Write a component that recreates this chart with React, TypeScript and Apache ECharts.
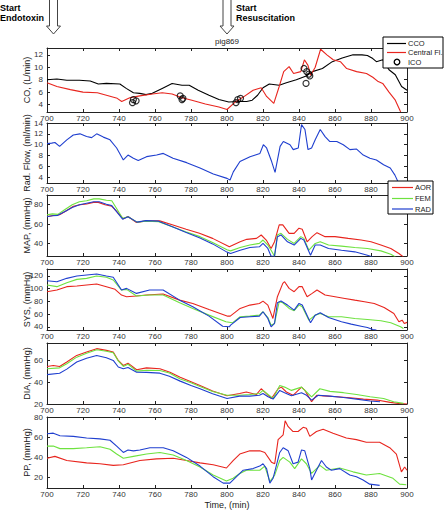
import React, { useEffect, useRef } from "react";
import * as echarts from "echarts";

const FONT = "'Liberation Sans', Arial, Helvetica, sans-serif";
const RED = "#e8251e";
const GREEN = "#6ee23f";
const BLUE = "#1f3fcf";

// CO panel
const cco: number[][] = [[700,8.0],[705.5,8.1],[711,7.9],[718,7.9],[724,7.8],[728.5,7.3],[733,7.4],[740.5,7.3],[744,6.6],[748,5.9],[751.5,5.8],[755,5.6],[758.5,5.8],[764,6.6],[769.5,7.4],[775,7.1],[779,7.1],[784,6.3],[790,5.5],[795.5,4.8],[801,4.4],[806,4.5],[811,4.5],[814,4.7],[817,5.5],[820,6.7],[823.5,7.3],[829,7.1],[833,7.5],[838.5,8.0],[844,8.6],[847.5,9.3],[853,9.8],[858.5,10.9],[864,11.5],[870,12],[875,12],[878,11.9],[881,11.4],[883,10.9],[886.5,11.2],[890,9.6],[893.5,8.8],[897,6.9],[900,6.3]];
const centralFl: number[][] = [[700,7.5],[705.5,6.9],[713,6.4],[720,6.0],[728,5.9],[733,5.5],[739,5.0],[741.5,4.5],[746,5.1],[751.5,5.4],[758.5,5.7],[764,5.9],[769.5,5.7],[775,5.1],[780.5,4.7],[788,4.1],[795.5,3.6],[800,3.2],[804.5,4.4],[809,5.2],[814.5,6.3],[819,6.7],[822,5.3],[826,4.2],[829,6.9],[831.5,9.3],[834.5,10.1],[837,9.0],[841,9.3],[843,11.2],[845,10.3],[846.5,8.7],[849,10.0],[852,12.9],[855.5,12.0],[859,11.2],[863,10.9],[866.5,9.8],[872,9.3],[877.5,9.0],[881,8.4],[884,7.7],[886.5,7.4],[890,6.0],[893.5,4.7],[896.5,2.8]];
const ico: number[][] = [[747.5,4.3],[748,4.8],[749.5,4.6],[774,5.4],[775,4.8],[775.5,5.0],[805,4.3],[806,4.8],[807.5,5.0],[842.8,9.8],[844.3,9.3],[845.5,8.9],[846,8.6],[843.9,7.4]];

// Radial flow
const radFlow: number[][] = [[700,10.2],[702.6,10.3],[704.4,10.4],[707,9.7],[711,10.9],[714.6,11.8],[718.3,12.0],[722,11.5],[724.8,11.3],[727.6,12.0],[731.3,11.4],[735,10.9],[738.7,9.4],[742.4,7.2],[745,8.1],[748,7.5],[750.7,7.1],[755.3,7.8],[760.9,8.1],[764.6,8.4],[770,7.5],[777.6,6.7],[785,5.7],[792.4,4.6],[800,3.8],[801.7,3.5],[803.5,5.0],[807.2,6.9],[812.8,7.8],[818.3,8.4],[820.2,10.0],[822,9.4],[824.8,6.9],[826.7,4.9],[829.5,9.7],[831.3,10.6],[835,10.0],[836.8,9.1],[839.6,9.4],[841.4,13.7],[843.3,12.8],[845,9.1],[847,9.4],[849,10.9],[851.8,12.8],[854.5,11.5],[857,10.6],[861,10.6],[864.6,10.0],[868.3,9.1],[872,9.2],[875.7,8.1],[879.4,7.5],[883,7.2],[887,6.3],[890.7,5.7],[893.3,4.4],[895,3.2]];

// MAP
const mapAor: number[][] = [[700,67.8],[703.7,68.9],[707,69.6],[711,74],[714.7,78.3],[718.4,80],[722,80.7],[725.8,82.4],[728.5,82.4],[732.2,80],[736,78.3],[738.7,73],[742.4,65.4],[745,67.8],[749.7,61.6],[755,63.3],[762.6,63.3],[770,59],[777.3,54.6],[784.7,50.4],[792,45.2],[801.3,36.5],[807.3,41.7],[811,44.2],[816.4,45.2],[819,48.7],[821.8,43.5],[824.5,34.8],[826.4,41.7],[829,59.1],[831,59.1],[834.5,50.4],[837.3,50.4],[840,55.7],[841.8,54.6],[844.5,41.7],[847.3,47],[850,51.1],[854.5,47],[860,47],[867.3,45.2],[874.5,43.5],[880,41.7],[885.5,38.3],[891,34.8],[895.5,29.6],[898,26]];
const mapFem: number[][] = [[700,69.5],[703,70.5],[706,70],[710,75],[714,80],[718,83],[722,84],[726,86],[729,86],[733,84.5],[736,84],[739,75],[742,66],[745,67.5],[750,62],[755,63],[762,62.5],[770,57],[777,52],[785,47],[792,41],[800,33.5],[802,32.3],[807.3,35.8],[812.7,38.3],[818,40],[820,43.5],[822.7,38.3],[824.5,33],[826.4,26.8],[828,48.7],[830,50.4],[833.6,44.2],[837.3,40],[841,47],[842.7,45.2],[845.5,33],[849,40],[851.8,41.7],[856.4,38.3],[863.6,37.2],[871,35.8],[878,34.8],[885.5,32.3],[891,28.9],[893.6,26]];
const mapRad: number[][] = [[700,67.5],[703,68.5],[706,69],[710,73],[714,77],[718,80],[722,81.5],[726,83],[729,83],[733,80.5],[736,79],[739,72],[742,65],[745,67.5],[750,62],[755,63.5],[762,63],[770,57],[777,51.5],[785,45.5],[792,39.5],[800,31],[802,29.6],[807.3,33],[812.7,35.8],[818,36.5],[820,40],[822.7,34.8],[824.5,26.8],[826.4,26.8],[828,47],[830,48.7],[833.6,41.7],[837.3,38.3],[841,45.2],[842.7,43.5],[846.4,27.8],[849,38.3],[851.8,38.3],[856.4,34.8],[863.6,33],[871,31.3],[878,27.8],[881,26],[883,25]];

// SYS
const sysAor: number[][] = [[700,95.3],[705.5,97.9],[711,103.2],[716.6,104.2],[722,105.8],[727.6,107.4],[733,103.2],[737.8,99],[741.4,90],[744.2,87.4],[749.7,88.4],[755.2,90],[764.5,91.6],[773.7,82],[781,76.8],[790,67.4],[800.4,56.8],[801.8,56.8],[807.3,69],[812.7,74.2],[818,76.8],[820,80.5],[822.7,74.2],[825.5,53.2],[828,87.4],[831,108.4],[832,111],[834.5,100.5],[837.3,95.3],[840,103.2],[841.8,103.2],[844.5,87.4],[847.3,92.6],[850,97.9],[854.5,90],[860,87.4],[865.5,84.7],[871,82],[876.4,79.5],[881.8,76.8],[887.3,70.5],[892.7,61],[895.5,47.9],[897.3,50.5],[898.5,45.3],[900,47]];
const sysFem: number[][] = [[700,105.8],[705.5,103.2],[711,109.5],[716.6,114.7],[722,116.3],[727.6,120],[733,118],[736.8,113.7],[741.4,97.9],[744.2,99],[749.7,88.4],[757,90],[764.5,90],[773.7,77.9],[781,68.9],[790,58.4],[799.4,47.9],[803,46.3],[807.3,55.8],[812.7,56.8],[818,58.4],[820,63.7],[822.7,54.7],[824.5,42.6],[826.4,45.3],[829,79.5],[831,77.9],[834.5,68.9],[837.3,65.3],[840,74.2],[841.8,71.6],[845.5,50.5],[849,58.4],[851.8,61],[856.4,55.8],[863.6,55.8],[871,53.2],[878,51.6],[885.5,49.5],[891,46.3],[896.4,40],[898,37.4]];
const sysRad: number[][] = [[700,112.6],[705.5,111],[711,116.3],[716.6,120],[722,121.6],[727.6,123.2],[733,120],[736.8,118],[741.4,97.9],[744.2,100.5],[749.7,92.6],[757,97.9],[764.5,97.9],[773.7,82],[781,71.6],[790,56.8],[797.6,41],[801.3,40],[802,42.6],[807.3,54.7],[812.7,55.8],[818,56.8],[820,63.7],[822.7,53.2],[824.5,40],[826.4,45.3],[828,77.9],[830,80.5],[833.6,74.2],[837.3,66.3],[840,76.8],[841.8,74.2],[846.4,46.3],[849,58.4],[851.8,62.1],[856.4,54.7],[863.6,47.9],[869,44.2],[874.5,41],[878,39],[881,35.8],[883,35]];

// DIA
const diaAor: number[][] = [[700,54.5],[703.5,55.4],[707,54.5],[711,58.5],[716.5,64.6],[722,67.7],[727.6,70.8],[733,69.2],[736.8,67.7],[739.6,60],[742.4,55.4],[745,57.5],[749.8,51.4],[755.3,53.2],[762.7,52.3],[768.3,49.2],[774,44.6],[780,40.5],[785,37],[792,32],[800,27.5],[807,29.6],[810.7,31],[816.3,28.7],[819,34],[821.9,29.6],[824.7,25],[828.4,34],[830.2,35.5],[833,31],[836.7,28],[841.4,35.5],[843.3,32.5],[847,22.1],[849.8,28],[853.5,27.5],[861,26.6],[868.4,25.7],[875.8,24.5],[883.3,23.6],[890.7,21.5],[896.3,20.3],[900,20]];
const diaFem: number[][] = [[700,52.3],[707,53.2],[711,57],[716.5,63],[722,66.5],[727.6,69.8],[733,68.5],[736.8,67],[739.6,59.5],[742.4,54.5],[745,56.5],[749.8,50.2],[755.3,51],[762.7,50.8],[768,48.5],[774,43],[780,39.5],[785,36],[792,31.5],[800,28],[807,28],[812.6,28.7],[818,29.6],[820,32.5],[822.8,28.7],[825.6,25],[829.3,37],[832,35.5],[835.8,32.5],[841.4,35.5],[844.2,31],[847,26.6],[851.6,34],[857.2,31.6],[864.7,30.4],[872,28.7],[879.5,26.6],[887,25],[892.6,22.1],[898,20.6]];
const diaRad: number[][] = [[700,47],[707,48.3],[711,52],[716.5,58.5],[722,62],[727.6,64.6],[733,62.5],[736.8,60],[739.6,54],[742.4,52.3],[745,53.5],[749.8,49.2],[755.3,49],[762.7,48.3],[768,45.5],[774,41],[780,37],[785,34],[792,29.5],[800,25],[807,27.2],[812.6,27.2],[818,28],[820,29.6],[822.8,26.6],[825.6,24.5],[829.3,32.5],[832,30.4],[835.8,27.5],[841.4,30.4],[844.2,28],[847,23.6],[850.7,28],[857.2,27.2],[864.7,26],[872,24.5],[879.5,22.7],[885,22.1]];

// PP
const ppAor: number[][] = [[700,39.1],[704.4,41],[711,36.9],[722,34.6],[729.4,33.7],[736.8,32.1],[742.4,32.7],[751.6,36.9],[760.8,38.5],[770.1,39.1],[777.5,36.9],[785,34.6],[792.3,32.7],[799.7,29.5],[803.4,36.9],[807.1,43.3],[812.7,46.5],[818.2,46.5],[821,44.9],[824.7,35.3],[826.5,33.7],[828.4,57.6],[831.2,62.4],[832.3,76.2],[834,70.4],[836.7,65.6],[839.5,65.6],[842.3,69.8],[844.1,68.8],[846,60.8],[849.7,65.6],[853.4,67.9],[858.9,64],[866.3,59.2],[871.9,57.6],[877.4,55],[884.8,55],[890.4,49.6],[894.1,43.3],[896.9,25.7],[898.7,30.5],[900,27.3]];
const ppFem: number[][] = [[700,51.2],[703.5,51.2],[707.2,48.7],[714.6,48.7],[722,49.6],[729.4,50.6],[735,48],[738.7,43.3],[742.4,39.1],[748,41],[755.3,43.3],[762.7,44.9],[770.1,42.3],[777.5,36.9],[785,30.5],[792.3,22.5],[799.7,16.7],[803.4,19.3],[807.1,24.1],[810.8,27.3],[818.2,27.3],[821,31.4],[823.8,16.1],[826.5,22.5],[829.3,36.9],[831.2,40],[834.9,35.3],[837.6,28.9],[841.4,38.5],[844.1,33.7],[847,24.1],[851.6,32.1],[855.2,27.3],[862.6,29.5],[870,25.7],[877.4,22.5],[884.8,24.1],[892.2,19.3],[895.9,13.5],[899.6,12.9]];
const ppRad: number[][] = [[700,63.4],[703.5,64],[707.2,61.5],[714.6,60.8],[722,59.2],[729.4,58.3],[735,57],[738.7,51.2],[742.4,44.9],[745,47.4],[748,46.5],[751.6,47.4],[757.2,49.6],[764.6,49.6],[770.1,46.5],[777.5,40],[785,31.4],[792.3,20.9],[797.9,14.5],[801.6,14.5],[805.3,20.9],[809,27.3],[814.5,28.9],[818.2,31.4],[820,33.7],[822,28.9],[823.8,14.5],[825.6,19.3],[829.3,44.9],[831.2,49.6],[834,46.5],[836.7,33.7],[839.5,35.3],[841.4,47.4],[843.2,46.5],[846,28.9],[847,17.7],[849.7,27.3],[852.5,36.9],[855.2,30.5],[858,27.3],[862.6,28.9],[868.2,22.5],[871.9,20.9],[875.6,17.7],[879.3,13.5],[884.8,12.3]];

const yNames = ["CO, (L/min)", "Rad. Flow, (ml/min)", "MAP, (mmHg)", "SYS, (mmHg)", "DIA, (mmHg)", "PP, (mmHg)"];
const yMins = [2.8, 2.95, 27, 35, 20, 9.7];
const yMaxs = [13.1, 14, 90, 131, 76, 80];
const yTickVals = [[4, 6, 8, 10, 12], [4, 6, 8, 10, 12, 14], [40, 60, 80], [40, 60, 80, 100, 120], [20, 40, 60], [20, 40, 60, 80]];

const legend1Names = ["CCO", "Central Fl.", "ICO"];
const legend2Names = ["AOR", "FEM", "RAD"];

const gridTops = [48, 123, 195, 269, 343, 417];
const gridHeights = [64, 60, 61, 61, 61, 73];

export default function App() {
  const ref = useRef<HTMLDivElement>(null);
  useEffect(() => {
    if (!ref.current) return;
    const chart = echarts.init(ref.current, null, { renderer: "svg" });
    const axisLine = { show: true, lineStyle: { color: "#222", width: 1 } };
    const tick = { show: true, inside: true, length: 3, lineStyle: { color: "#222", width: 1 } };
    const grid = gridTops.map((t, i) => ({ left: 47, right: 37, top: t, height: gridHeights[i] }));
    const xAxis: any[] = [];
    const yAxis: any[] = [];
    gridTops.forEach((_, i) => {
      xAxis.push({
        gridIndex: i, type: "value", min: 700, max: 900, interval: 20, position: "bottom",
        axisLine, axisTick: tick, splitLine: { show: false },
        axisLabel: { fontSize: 8, color: "#333", margin: 2, fontFamily: FONT },
        ...(i === 5 ? { name: "Time, (min)", nameLocation: "middle", nameGap: 12, nameMoveOverlap: false, nameTextStyle: { fontSize: 9, color: "#222", fontFamily: FONT } } : {}),
      });
      xAxis.push({
        gridIndex: i, type: "value", min: 700, max: 900, interval: 20, position: "top",
        axisLine, axisTick: tick, splitLine: { show: false }, axisLabel: { show: false },
      });
      yAxis.push({
        gridIndex: i, type: "value", min: yMins[i], max: yMaxs[i], position: "left",
        axisLine, axisTick: { ...tick, customValues: yTickVals[i] }, splitLine: { show: false },
        axisLabel: { fontSize: 8, color: "#333", margin: 4, fontFamily: FONT, customValues: yTickVals[i] },
        name: yNames[i], nameLocation: "middle", nameGap: 16, nameMoveOverlap: false,
        nameTextStyle: { fontSize: 9, color: "#222", fontFamily: FONT },
      });
      yAxis.push({
        gridIndex: i, type: "value", min: yMins[i], max: yMaxs[i], position: "right",
        axisLine, axisTick: { ...tick, customValues: yTickVals[i] }, splitLine: { show: false },
        axisLabel: { show: false },
      });
    });
    const line = (name: string, data: number[][], color: string, i: number) => ({
      name, type: "line", data, xAxisIndex: i * 2, yAxisIndex: i * 2,
      symbol: "none", lineStyle: { color, width: 1.1 }, itemStyle: { color }, z: 3,
    });
    const series: any[] = [
      line("CCO", cco, "#000", 0),
      line("Central Fl.", centralFl, RED, 0),
      {
        name: "ICO", type: "scatter", data: ico, xAxisIndex: 0, yAxisIndex: 0,
        symbol: "circle", symbolSize: 6,
        itemStyle: { color: "rgba(0,0,0,0)", borderColor: "#000", borderWidth: 1.2 }, z: 5,
      },
      line("Rad. Flow", radFlow, BLUE, 1),
      line("AOR", mapAor, RED, 2),
      line("FEM", mapFem, GREEN, 2),
      line("RAD", mapRad, BLUE, 2),
      line("AOR", sysAor, RED, 3),
      line("FEM", sysFem, GREEN, 3),
      line("RAD", sysRad, BLUE, 3),
      line("AOR", diaAor, RED, 4),
      line("FEM", diaFem, GREEN, 4),
      line("RAD", diaRad, BLUE, 4),
      line("AOR", ppAor, RED, 5),
      line("FEM", ppFem, GREEN, 5),
      line("RAD", ppRad, BLUE, 5),
    ];
    const arrow = (cx: number) => ({
      type: "polygon",
      shape: { points: [[cx - 4, -1], [cx - 4, 26], [cx - 7, 26], [cx, 34], [cx + 7, 26], [cx + 4, 26], [cx + 4, -1]] },
      style: { fill: "#fff", stroke: "#444", lineWidth: 1 },
    });
    const legText = (text: string, x: number, y: number) => ({
      type: "text", x, y, z: 20,
      style: { text, font: `7.5px ${FONT}`, fill: "#222", verticalAlign: "middle", align: "left" },
    });
    const legLine = (x1: number, x2: number, y: number, color: string) => ({
      type: "line", z: 20, shape: { x1, y1: y, x2, y2: y }, style: { stroke: color, lineWidth: 1.2 },
    });
    const l1Colors = ["#000", RED];
    const l1Y = [43.5, 52.5, 62];
    const l2Colors = [RED, GREEN, BLUE];
    const l2Y = [187.5, 198.5, 209];
    const legendGraphics: any[] = [
      { type: "rect", z: 19, shape: { x: 383, y: 37, width: 60, height: 31 }, style: { fill: "#fff", stroke: "#000", lineWidth: 1 } },
      ...l1Colors.map((c, k) => legLine(387, 406, l1Y[k], c)),
      { type: "circle", z: 20, shape: { cx: 397, cy: l1Y[2], r: 2.8 }, style: { fill: "none", stroke: "#000", lineWidth: 1.3 } },
      ...legend1Names.map((n, k) => legText(n, 408, l1Y[k])),
      { type: "rect", z: 19, shape: { x: 388, y: 181, width: 45, height: 33 }, style: { fill: "#fff", stroke: "#000", lineWidth: 1 } },
      ...l2Colors.map((c, k) => legLine(392, 413, l2Y[k], c)),
      ...legend2Names.map((n, k) => legText(n, 415, l2Y[k])),
    ];
    chart.setOption({
      animation: false,
      grid,
      xAxis,
      yAxis,
      series,
      title: {
        text: "pig869", left: 227, top: 37, textAlign: "center", padding: 0,
        textStyle: { fontSize: 8, fontWeight: "normal", color: "#222", fontFamily: FONT },
      },
      graphic: [
        arrow(53.5),
        arrow(227),
        { type: "text", left: 0, top: 3, style: { text: "Start\nEndotoxin", font: `bold 9px ${FONT}`, fill: "#000", lineHeight: 10 } },
        { type: "text", left: 236, top: 3, style: { text: "Start\nResuscitation", font: `bold 9px ${FONT}`, fill: "#000", lineHeight: 10 } },
        ...legendGraphics,
      ],
    });
    return () => chart.dispose();
  }, []);
  return <div ref={ref} style={{ position: "fixed", left: 0, top: 0, width: 444, height: 510, background: "#fff" }} />;
}
